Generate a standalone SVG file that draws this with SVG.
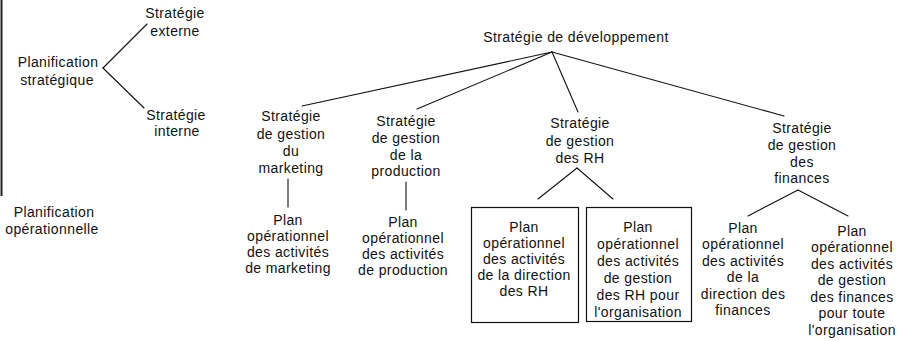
<svg xmlns="http://www.w3.org/2000/svg" width="906" height="341" viewBox="0 0 906 341">
  <style>
    text { font-family: "Liberation Sans", Arial, Helvetica, sans-serif; font-size: 14px; letter-spacing: 0.4px; fill: #111; text-anchor: middle; }
    .edge { stroke: #111; stroke-width: 1.1; fill: none; stroke-linecap: round; }
    .box { stroke: #111; stroke-width: 1.2; fill: none; }
  </style>
  <rect width="906" height="341" fill="#fff"/>
  <!-- margin rule on the left -->
  <line x1="1.5" y1="0" x2="1.5" y2="196" stroke="#222" stroke-width="2"/>

  <!-- connectors -->
  <g id="connectors">
    <line class="edge" x1="103" y1="68" x2="147" y2="24"/>
    <line class="edge" x1="103" y1="68" x2="144" y2="108"/>
    <line class="edge" x1="552" y1="52" x2="302" y2="106"/>
    <line class="edge" x1="552" y1="52" x2="417" y2="109"/>
    <line class="edge" x1="552" y1="52" x2="578" y2="112"/>
    <line class="edge" x1="552" y1="52" x2="784" y2="116"/>
    <line class="edge" x1="288" y1="179" x2="288" y2="207"/>
    <line class="edge" x1="406" y1="182" x2="406" y2="210"/>
    <line class="edge" x1="577" y1="168" x2="538" y2="199"/>
    <line class="edge" x1="577" y1="168" x2="613" y2="199"/>
    <line class="edge" x1="798" y1="190" x2="748" y2="216"/>
    <line class="edge" x1="798" y1="190" x2="848" y2="216"/>
  </g>

  <g id="planification-strategique">
    <text x="58" y="67">Planification</text>
    <text x="57" y="85">stratégique</text>
  </g>
  <g id="strategie-externe">
    <text x="175" y="18">Stratégie</text>
    <text x="175" y="36">externe</text>
  </g>
  <g id="strategie-interne">
    <text x="176" y="120">Stratégie</text>
    <text x="177" y="136">interne</text>
  </g>
  <g id="planification-operationnelle">
    <text x="54" y="217">Planification</text>
    <text x="52" y="234">opérationnelle</text>
  </g>

  <g id="strategie-developpement">
    <text x="576" y="42">Stratégie de développement</text>
  </g>

  <g id="gestion-marketing">
    <text x="291" y="121">Stratégie</text>
    <text x="291" y="139">de gestion</text>
    <text x="291" y="156">du</text>
    <text x="291" y="173">marketing</text>
  </g>
  <g id="gestion-production">
    <text x="406" y="126">Stratégie</text>
    <text x="406" y="143">de gestion</text>
    <text x="406" y="160">de la</text>
    <text x="406" y="176">production</text>
  </g>
  <g id="gestion-rh">
    <text x="580" y="128">Stratégie</text>
    <text x="580" y="146">de gestion</text>
    <text x="580" y="163">des RH</text>
  </g>
  <g id="gestion-finances">
    <text x="802" y="133">Stratégie</text>
    <text x="802" y="150">de gestion</text>
    <text x="802" y="167">des</text>
    <text x="802" y="183">finances</text>
  </g>

  <g id="plan-marketing">
    <text x="288" y="225">Plan</text>
    <text x="288" y="241">opérationnel</text>
    <text x="288" y="257">des activités</text>
    <text x="288" y="273">de marketing</text>
  </g>
  <g id="plan-production">
    <text x="403" y="227">Plan</text>
    <text x="403" y="243">opérationnel</text>
    <text x="403" y="259">des activités</text>
    <text x="403" y="275">de production</text>
  </g>
  <g id="plan-direction-rh">
    <rect class="box" x="471.5" y="207.5" width="107" height="115"/>
    <text x="524" y="232">Plan</text>
    <text x="524" y="248">opérationnel</text>
    <text x="524" y="264">des activités</text>
    <text x="524" y="280">de la direction</text>
    <text x="524" y="296">des RH</text>
  </g>
  <g id="plan-gestion-rh">
    <rect class="box" x="586.5" y="207.5" width="105" height="114"/>
    <text x="638" y="232">Plan</text>
    <text x="638" y="249">opérationnel</text>
    <text x="638" y="266">des activités</text>
    <text x="638" y="283">de gestion</text>
    <text x="638" y="300">des RH pour</text>
    <text x="638" y="317">l'organisation</text>
  </g>
  <g id="plan-direction-finances">
    <text x="743" y="233">Plan</text>
    <text x="743" y="249">opérationnel</text>
    <text x="743" y="266">des activités</text>
    <text x="743" y="282">de la</text>
    <text x="743" y="299">direction des</text>
    <text x="743" y="315">finances</text>
  </g>
  <g id="plan-gestion-finances">
    <text x="852" y="236">Plan</text>
    <text x="852" y="252">opérationnel</text>
    <text x="852" y="269">des activités</text>
    <text x="852" y="285">de gestion</text>
    <text x="852" y="302">des finances</text>
    <text x="852" y="318">pour toute</text>
    <text x="852" y="335">l'organisation</text>
  </g>
</svg>
